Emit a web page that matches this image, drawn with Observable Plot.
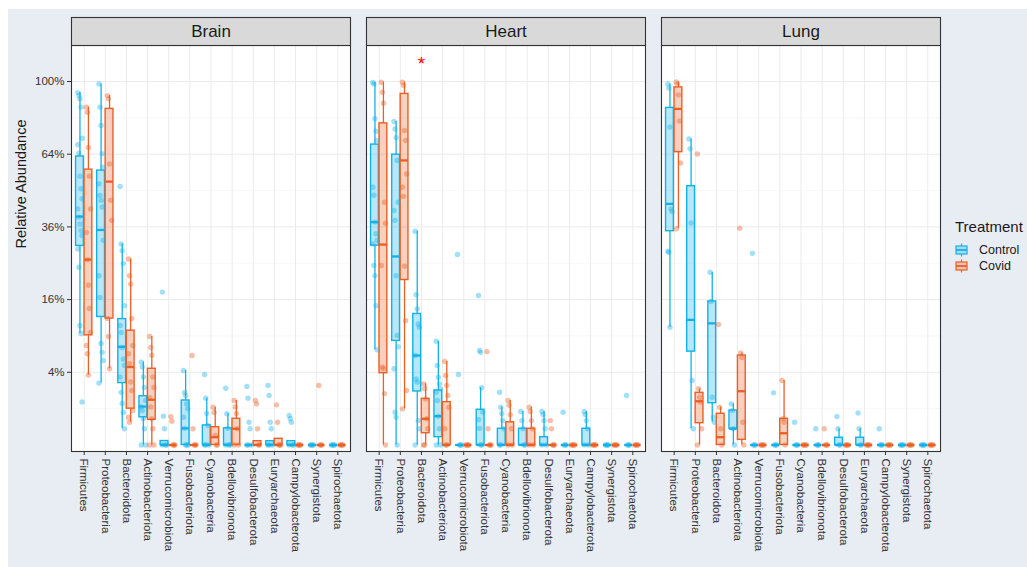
<!DOCTYPE html>
<html>
<head>
<meta charset="utf-8">
<script src="https://cdn.jsdelivr.net/npm/d3@7"></script>
<script src="https://cdn.jsdelivr.net/npm/@observablehq/plot@0.6"></script>
<style>
  body { margin: 0; background: #ffffff; font-family: "Liberation Sans", Arial, sans-serif; }
  #wrap { position: relative; width: 1027px; height: 567px; overflow: hidden; }
  #bg { position: absolute; left: 8px; top: 9px; right: 0; bottom: 0; background: #e8ecf3; }
  #chart { position: absolute; left: 0; top: 0; }
  #legend { position: absolute; left: 955px; top: 218px; color: #1a1a1a; white-space: nowrap; }
  #legend .lt { font-size: 15px; margin-bottom: 7px; }
  #legend .li { display: flex; align-items: center; font-size: 12.5px; height: 16px; }
  #legend .li svg { margin-right: 11px; }
</style>
</head>
<body>
<div id="wrap"><div id="bg"></div><div id="chart"></div><div id="legend"></div></div>
<script>
// ---------- data ----------
const phyla = ["Firmicutes","Proteobacteria","Bacteroidota","Actinobacteriota","Verrucomicrobiota",
  "Fusobacteriota","Cyanobacteria","Bdellovibrionota","Desulfobacterota","Euryarchaeota",
  "Campylobacterota","Synergistota","Spirochaetota"];
const tissues = ["Brain","Heart","Lung"];
const treatments = ["Control","Covid"];
const treatmentColors = ["#13b1e8","#ec5f24"];
const yTicks = [4,16,36,64,100];
const yMinorTicks = [1,9,25,49,81];

// box statistics per phylum: [lower whisker, Q1, median, Q3, upper whisker] (relative abundance, %)
const brainControl = [[9.4,30,39.5,63,94],[2.9,12.4,35,57,98.7],[0.2,2.9,7.3,12,30.6],[0,0.58,1.12,1.8,5.2],
  [0,0,0,0.012,0.012],[0,0,0.21,1.5,4.2],[0,0,0,0.29,1.66],[0,0,0,0.21,0.74],[0,0,0,0,0],
  [0,0,0,0.011,0.011],[0,0,0,0.011,0.011],[0,0,0,0,0],[0,0,0,0,0]];
const brainCovid = [[3.7,9.1,26,57.4,86.4],[4.4,12.1,52.5,85.5,92.4],[0.39,1.0,4.6,9.9,26.2],[0,0.48,1.55,4.4,8.9],
  [0,0,0,0,0],[0,0,0,0,0],[0,0,0.046,0.24,1.08],[0,0,0.2,0.52,1.5],[0,0,0,0.011,0.011],
  [0,0,0,0.029,0.029],[0,0,0,0,0],[0,0,0,0,0],[0,0,0,0,0]];
const heartControl = [[6.86,30.1,37.6,68.3,99.5],[0,8.2,26.9,63.8,79.2],[0,2.17,6.06,13.0,34.6],[0,0.046,0.63,2.25,8.15],
  [0,0,0,0,0],[0,0,0,0.94,2.48],[0,0,0,0.2,1.08],[0,0,0,0.2,0.85],[0,0,0,0.046,0.85],
  [0,0,0,0,0],[0,0,0,0.2,0.85],[0,0,0,0,0],[0,0,0,0,0]];
const heartCovid = [[0,3.9,30.4,78.3,99.6],[0.99,20.6,61.3,93.3,99.6],[0,0.105,0.52,1.61,2.83],[0,0,0,1.39,5.28],
  [0,0,0,0,0],[0,0,0,0,0],[0,0,0,0.39,1.5],[0,0,0,0.2,1.08],[0,0,0,0,0],
  [0,0,0,0,0],[0,0,0,0,0],[0,0,0,0,0],[0,0,0,0,0]];
const lungControl = [[10.5,34.6,44.0,86.0,98.7],[0.2,6.6,11.85,50.7,70.9],[0.39,1.32,11.2,15.6,22.6],[0,0.2,0.2,0.9,1.28],
  [0,0,0,0,0],[0,0,0,0,0],[0,0,0,0,0],[0,0,0,0,0],[0,0,0,0.04,0.2],
  [0,0,0,0.04,0.2],[0,0,0,0,0],[0,0,0,0,0],[0,0,0,0,0]];
const lungCovid = [[35.4,64.9,85.5,96.8,99.8],[0,0.36,1.45,2.06,2.39],[0,0,0.046,0.74,1.08],[0,0.02,2.19,6.06,6.4],
  [0,0,0,0,0],[0,0,0.105,0.52,3.15],[0,0,0,0,0],[0,0,0,0,0],[0,0,0,0,0],
  [0,0,0,0,0],[0,0,0,0,0],[0,0,0,0,0],[0,0,0,0,0]];

// individual samples per phylum (%)
const brainControlPts = [[94,92.4,90.7,86.4,71.2,68.2,64.4,54.7,49.7,45.9,42.2,39.3,37,34.8,33.2,29.1,23.9,10.8,9.4,1.4],
  [98.7,86.4,77.3,64.2,58.4,51.6,47.1,45.3,42.9,31.7,21.7,16.5,7.8,6.5,5.4,2.9],
  [50.6,30.6,28.6,24.9,14.7,10.8,9.6,7.2,5.6,4.8,3.5,2.1,1.3,0.8,0.2],
  [5.2,4.6,3.5,2.5,1.5,1.1,0.9,0.52,0.2,0,0],[17.7,0.63,0.2,0,0,0],[4.2,2.1,1.85,1.28,0.99,0.58,0.21,0,0,0],
  [3.76,1.66,0.75,0.29,0,0,0],[2.44,0.74,0.21,0,0,0],[2.6,1.66,0.39,0.2,0,0,0],[2.68,1.85,0.39,0.2,0,0,0],
  [0.66,0.52,0.39,0,0,0],[0,0,0,0],[0,0,0,0]];
const brainCovidPts = [[86.4,83.8,67,54.7,42.2,34.2,26,19.3,14.1,9.6,7.5,6.3,3.7],[92.4,90.7,59.8,45.3,38.2,12.1,8.9,4.4],
  [26.2,21.7,19.6,12.1,7.5,6.3,5.0,3.0,2.25,0.9,0.58,0.39],[8.9,7.2,6.1,3.5,2.5,1.7,1.1,0.52,0.2,0,0],
  [0.61,0.43,0,0,0],[6.06,0.2,0,0,0],[1.08,0.8,0.07,0,0],[1.5,1.1,0.75,0.2,0,0],[1.5,1.28,0.2,0,0],
  [1.22,0.39,0,0,0],[0,0,0,0],[2.68,0,0,0],[0,0,0,0]];
const heartControlPts = [[99.5,98.7,80.6,74.5,70.2,50.3,47.2,37.6,33.8,31.7,30.6,24.4,21.7,14.7,6.86],
  [79.2,75.6,71.6,61.3,44.6,41.6,38.2,21.7,9.07,7.3,4.4,0.81,0.58,0],
  [34.6,17.1,14.0,11.1,10.5,6.06,3.3,2.98,0.45,0.2,0],[8.15,4.79,3.48,2.83,2.39,2.11,1.5,0.63,0.2,0,0],
  [27.5,3.76,0,0,0],[16.9,6.76,6.5,2.48,0.81,0.48,0.21,0,0],[2.11,1.08,0.75,0.45,0.2,0,0],[0.85,0.45,0.2,0,0],
  [0.85,0.7,0.45,0.2,0,0],[0.81,0,0,0],[0.85,0.7,0.45,0.2,0,0],[0,0,0,0],[1.85,0,0,0]];
const heartCovidPts = [[99.6,94.2,88.4,44.6,37.2,24.4,4.6,4.4,2.0,0],[99.6,97.8,74.9,70.2,55.6,50.3,46.8,24.2,11.7,2.25,0.99],
  [2.83,2.39,1.61,0.52,0.2,0,0],[5.28,3.66,2.68,1.85,1.08,0.2,0,0],[0,0,0,0],[6.6,0.2,0,0,0],
  [1.5,1.2,0.7,0.2,0,0],[1.08,0.85,0.45,0.2,0,0],[0.45,0.2,0,0,0],[0,0,0,0],[0,0,0,0],[0,0,0,0],[0,0,0,0]];
const lungControlPts = [[98.7,96.5,76.5,42.2,41.3,28.4,28.1,10.5],[70.9,66.4,37.3,3.15,0.2],[22.6,15.6,1.73,0.58,0.39],
  [1.28,0.9,0.2,0],[27.8,0,0,0],[2.06,0,0,0],[0.39,0,0,0],[0.2,0,0,0],[0.61,0.2,0,0],[0.78,0.2,0,0],
  [0.2,0,0,0],[0,0,0,0],[0,0,0,0]];
const lungCovidPts = [[99.8,98.7,92.8,79.4,60.2,35.4],[64.1,2.39,1.73,1.39,0.2,0],[11.0,1.08,0.2,0],[35.6,6.4,5.8,0.39,0],
  [0,0,0,0],[3.15,0.52,0.39,0],[0,0,0,0],[0.2,0,0,0],[0,0,0,0],[0,0,0,0],[0,0,0,0],[0,0,0,0],[0,0,0,0]];

// significance annotation
const annotations = [{tissue: "Heart", phylum: 2, value: 112.4, label: "*"}];

// ---------- build tables ----------
const statSets = {Brain: [brainControl, brainCovid], Heart: [heartControl, heartCovid], Lung: [lungControl, lungCovid]};
const ptSets = {Brain: [brainControlPts, brainCovidPts], Heart: [heartControlPts, heartCovidPts], Lung: [lungControlPts, lungCovidPts]};
const dodge = 0.2, half = 0.185;
const boxes = [], points = [];
for (const t of tissues) {
  treatments.forEach((g, gi) => {
    const off = gi === 0 ? -dodge : dodge;
    statSets[t][gi].forEach(([lo, q1, med, q3, hi], i) => {
      boxes.push({tissue: t, treatment: g, xc: i + off, x1: i + off - half, x2: i + off + half, lo, q1, med, q3, hi});
    });
    ptSets[t][gi].forEach((vals, i) => {
      vals.forEach((v, k) => points.push({tissue: t, treatment: g, x: i + off + ((k % 5) - 2) * 0.05, v}));
    });
  });
}

const chart = Plot.plot({
  width: 1027, height: 567,
  marginLeft: 70, marginRight: 85, marginTop: 45, marginBottom: 116,
  style: {background: "transparent", fontFamily: "'Liberation Sans', Arial, sans-serif", color: "#333"},
  fx: {domain: tissues, paddingInner: 0.054, paddingOuter: 0, axis: null, label: null},
  x: {type: "linear", domain: [-0.6, 12.6], axis: null},
  y: {type: "sqrt", domain: [0, 120.8], insetBottom: 6.5, axis: null},
  color: {domain: treatments, range: treatmentColors},
  marks: [
    Plot.frame({fill: "white", stroke: "none"}),
    Plot.ruleY(yMinorTicks, {stroke: "#f3f3f3", strokeWidth: 0.6}),
    Plot.ruleY(yTicks, {stroke: "#ebebeb", strokeWidth: 1}),
    Plot.ruleX(d3.range(phyla.length), {stroke: "#ebebeb", strokeWidth: 1}),
    Plot.ruleX(boxes, {fx: "tissue", x: "xc", y1: "q3", y2: "hi", stroke: "treatment", strokeWidth: 1.3}),
    Plot.ruleX(boxes, {fx: "tissue", x: "xc", y1: "lo", y2: "q1", stroke: "treatment", strokeWidth: 1.3}),
    Plot.rect(boxes, {fx: "tissue", x1: "x1", x2: "x2", y1: "q1", y2: "q3", fill: "treatment", fillOpacity: 0.3, stroke: "treatment", strokeWidth: 1.4}),
    Plot.ruleY(boxes, {fx: "tissue", x1: "x1", x2: "x2", y: "med", stroke: "treatment", strokeWidth: 2.3}),
    Plot.dot(points, {fx: "tissue", x: "x", y: "v", r: 2.7, fill: "treatment", fillOpacity: 0.4, stroke: "none"}),
    Plot.frame({stroke: "#333", strokeWidth: 1.1}),
    Plot.frame({fill: "#d9d9d9", stroke: "#333", strokeWidth: 1.1, insetTop: -28, insetBottom: 406}),
    Plot.text(tissues, {fx: d => d, text: d => d, frameAnchor: "top", lineAnchor: "middle", dy: -14, fontSize: 17, fill: "#1a1a1a"}),
    Plot.text(annotations, {fx: "tissue", x: "phylum", y: "value", text: "label", fill: "red", fontSize: 19, dy: 4}),
    Plot.axisX({ticks: d3.range(phyla.length), tickFormat: i => phyla[i], tickRotate: 90, tickSize: 4, tickPadding: 3, fontSize: 11.5, label: null, color: "#333"}),
    Plot.axisY({ticks: yTicks, tickFormat: d => d + "%", tickSize: 4, tickPadding: 3, fontSize: 11.5, label: null, color: "#333"}),
    Plot.text(["Relative Abundance"], {fx: () => "Brain", text: d => d, frameAnchor: "left", dx: -50, rotate: -90, fontSize: 14.5, fill: "#1a1a1a"})
  ]
});
document.getElementById("chart").appendChild(chart);

// ---------- legend ----------
const legend = document.getElementById("legend");
const lt = document.createElement("div"); lt.className = "lt"; lt.textContent = "Treatment"; legend.appendChild(lt);
treatments.forEach((g, gi) => {
  const c = treatmentColors[gi];
  const row = document.createElement("div"); row.className = "li";
  row.innerHTML = `<svg width="13" height="14" viewBox="0 0 13 14">
    <line x1="6.5" x2="6.5" y1="0.5" y2="3" stroke="${c}" stroke-width="1.2"/>
    <line x1="6.5" x2="6.5" y1="11" y2="13.5" stroke="${c}" stroke-width="1.2"/>
    <rect x="1" y="3" width="11" height="8" fill="${c}" fill-opacity="0.3" stroke="${c}" stroke-width="1.2"/>
    <line x1="1" x2="12" y1="7" y2="7" stroke="${c}" stroke-width="1.8"/>
  </svg><span>${g}</span>`;
  legend.appendChild(row);
});
</script>
</body>
</html>
